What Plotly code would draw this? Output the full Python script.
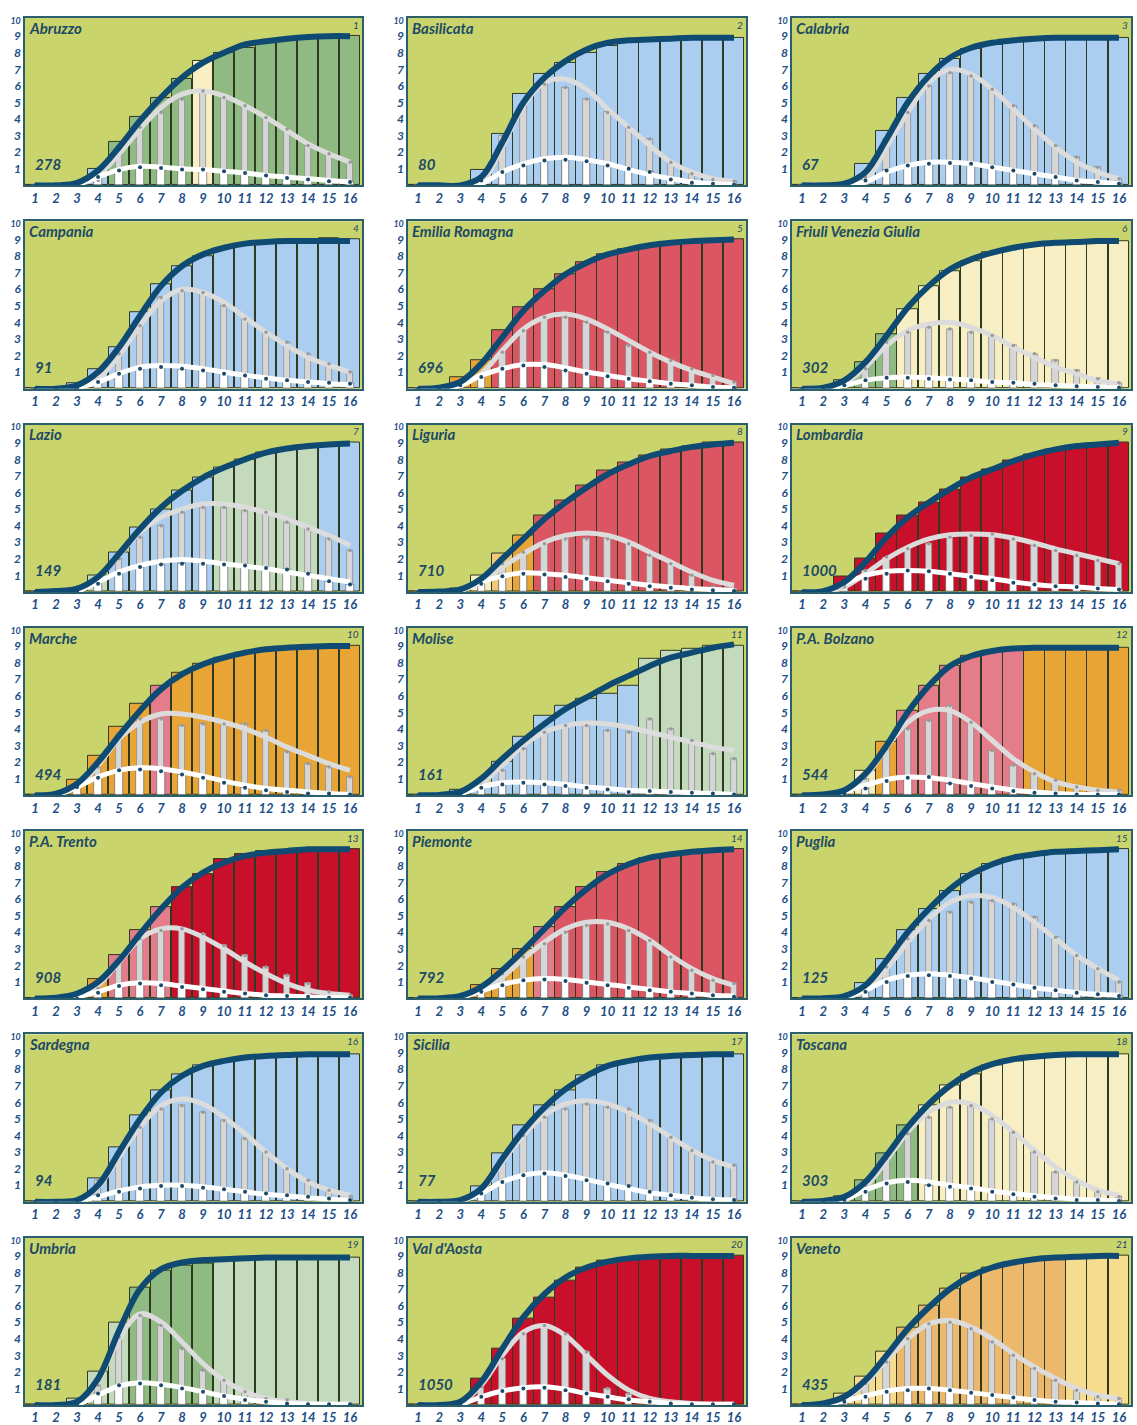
import plotly.graph_objects as go

DAYS = list(range(1, 17))
REGIONS = ["Abruzzo", "Basilicata", "Calabria", "Campania", "Emilia Romagna", "Friuli Venezia Giulia",
           "Lazio", "Liguria", "Lombardia", "Marche", "Molise", "P.A. Bolzano",
           "P.A. Trento", "Piemonte", "Puglia", "Sardegna", "Sicilia", "Toscana",
           "Umbria", "Val d'Aosta", "Veneto"]
TOTALS = [278, 80, 67, 91, 696, 302, 149, 710, 1000, 494, 161, 544,
          908, 792, 125, 94, 77, 303, 181, 1050, 435]

CUM_BARS = [
    [0, 0, 0.05, 1.0, 2.6, 4.1, 5.3, 6.4, 7.5, 8.0, 8.3, 8.6, 8.8, 8.9, 9.0, 9.0],
    [0, 0, 0, 0.95, 3.1, 5.5, 6.7, 7.4, 8.0, 8.4, 8.8, 8.8, 8.8, 8.9, 8.9, 8.9],
    [0, 0, 0.05, 1.3, 3.3, 5.3, 6.7, 7.6, 8.2, 8.5, 8.7, 8.8, 8.85, 8.9, 8.9, 8.9],
    [0, 0, 0.35, 1.2, 2.5, 4.6, 6.3, 7.4, 8.0, 8.5, 8.7, 8.85, 8.9, 8.9, 9.1, 9.0],
    [0, 0.1, 0.7, 1.7, 3.5, 4.9, 6.0, 6.9, 7.6, 8.1, 8.4, 8.6, 8.8, 8.9, 9.0, 9.0],
    [0, 0, 0.5, 1.6, 3.3, 4.8, 6.2, 7.1, 7.7, 8.2, 8.5, 8.7, 8.8, 8.85, 8.9, 8.9],
    [0, 0, 0.1, 1.0, 2.4, 3.9, 5.0, 6.1, 6.9, 7.5, 8.0, 8.4, 8.6, 8.8, 8.9, 9.0],
    [0, 0, 0.2, 1.0, 2.3, 3.4, 4.6, 5.5, 6.4, 7.3, 7.8, 8.2, 8.6, 8.8, 9.0, 9.0],
    [0, 0.05, 0.9, 2.0, 3.5, 4.6, 5.4, 6.2, 6.9, 7.4, 7.9, 8.3, 8.6, 8.8, 8.95, 9.0],
    [0, 0.05, 0.9, 2.4, 4.1, 5.5, 6.6, 7.4, 7.9, 8.3, 8.6, 8.8, 8.9, 8.95, 9.0, 9.0],
    [0.05, 0.1, 0.3, 0.5, 2.0, 3.5, 4.8, 5.4, 5.8, 6.1, 6.6, 8.2, 8.7, 8.85, 9.0, 9.0],
    [0, 0, 0.2, 1.5, 3.2, 5.1, 6.6, 7.8, 8.4, 8.7, 8.8, 8.9, 8.9, 8.9, 8.9, 8.9],
    [0, 0, 0.1, 1.2, 2.6, 4.1, 5.5, 6.7, 7.5, 8.4, 8.7, 8.9, 8.9, 9.0, 9.0, 9.0],
    [0, 0, 0.1, 0.8, 1.8, 3.0, 4.3, 5.5, 6.7, 7.6, 8.1, 8.5, 8.7, 8.85, 8.9, 9.0],
    [0, 0, 0.1, 0.9, 2.4, 4.1, 5.4, 6.5, 7.5, 8.1, 8.5, 8.7, 8.85, 8.9, 8.95, 9.0],
    [0, 0, 0.05, 1.4, 3.3, 5.2, 6.7, 7.7, 8.2, 8.5, 8.7, 8.8, 8.85, 8.9, 8.9, 8.9],
    [0, 0, 0.05, 0.9, 2.9, 4.6, 5.8, 6.7, 7.6, 8.2, 8.5, 8.7, 8.8, 8.85, 8.9, 8.9],
    [0, 0, 0.3, 1.3, 2.9, 4.6, 5.8, 7.0, 7.7, 8.2, 8.5, 8.7, 8.85, 8.9, 8.9, 8.9],
    [0, 0, 0.4, 2.0, 5.0, 7.1, 8.1, 8.4, 8.55, 8.7, 8.8, 8.85, 8.9, 8.9, 8.9, 8.9],
    [0, 0, 0.1, 1.6, 3.4, 5.2, 6.5, 7.5, 8.3, 8.7, 8.85, 8.9, 9.0, 9.0, 9.0, 9.0],
    [0, 0.1, 0.7, 1.7, 3.2, 4.7, 6.0, 7.0, 7.9, 8.3, 8.6, 8.8, 8.9, 8.95, 9.0, 9.0],
]
CUM_CURVE = [
    [0, 0, 0.15, 0.9, 2.3, 3.9, 5.3, 6.5, 7.4, 8.0, 8.5, 8.7, 8.85, 8.95, 9.0, 9.0],
    [0, 0, 0, 0.5, 2.6, 5.0, 6.5, 7.5, 8.2, 8.6, 8.75, 8.8, 8.85, 8.9, 8.9, 8.9],
    [0, 0, 0.1, 0.8, 2.8, 5.0, 6.6, 7.7, 8.3, 8.6, 8.75, 8.85, 8.9, 8.9, 8.9, 8.9],
    [0, 0, 0.2, 1.0, 2.5, 4.4, 6.2, 7.4, 8.1, 8.5, 8.75, 8.85, 8.9, 8.9, 8.9, 8.9],
    [0, 0.05, 0.4, 1.5, 3.1, 4.7, 5.9, 6.9, 7.6, 8.1, 8.4, 8.65, 8.8, 8.9, 8.95, 9.0],
    [0, 0.05, 0.5, 1.6, 3.2, 4.9, 6.2, 7.2, 7.8, 8.2, 8.5, 8.7, 8.8, 8.85, 8.9, 8.9],
    [0, 0.05, 0.2, 0.9, 2.3, 3.8, 5.1, 6.1, 6.9, 7.5, 8.0, 8.4, 8.65, 8.8, 8.9, 8.95],
    [0, 0.02, 0.15, 0.8, 2.0, 3.2, 4.4, 5.4, 6.3, 7.1, 7.7, 8.2, 8.5, 8.75, 8.9, 9.0],
    [0, 0.05, 0.6, 1.8, 3.3, 4.5, 5.4, 6.2, 6.9, 7.4, 7.9, 8.3, 8.6, 8.8, 8.9, 9.0],
    [0, 0.1, 0.7, 2.0, 3.6, 5.1, 6.4, 7.3, 7.9, 8.3, 8.6, 8.8, 8.9, 8.95, 9.0, 9.0],
    [0, 0.02, 0.2, 1.0, 2.2, 3.3, 4.3, 5.2, 5.9, 6.6, 7.2, 7.8, 8.3, 8.6, 8.9, 9.1],
    [0, 0.05, 0.3, 1.3, 3.0, 5.0, 6.6, 7.8, 8.4, 8.7, 8.85, 8.9, 8.9, 8.9, 8.9, 8.9],
    [0, 0.05, 0.3, 1.0, 2.3, 3.9, 5.4, 6.7, 7.6, 8.2, 8.6, 8.8, 8.9, 9.0, 9.0, 9.0],
    [0, 0.02, 0.15, 0.7, 1.7, 2.9, 4.2, 5.5, 6.6, 7.5, 8.1, 8.5, 8.7, 8.85, 8.95, 9.0],
    [0, 0.02, 0.15, 0.8, 2.3, 4.0, 5.4, 6.6, 7.5, 8.1, 8.5, 8.7, 8.85, 8.9, 8.95, 9.0],
    [0, 0, 0.1, 1.0, 3.0, 5.0, 6.6, 7.6, 8.2, 8.5, 8.7, 8.8, 8.85, 8.9, 8.9, 8.9],
    [0, 0, 0.1, 0.8, 2.6, 4.3, 5.7, 6.8, 7.6, 8.2, 8.5, 8.7, 8.8, 8.85, 8.9, 8.9],
    [0, 0.05, 0.3, 1.2, 2.8, 4.5, 5.9, 7.0, 7.8, 8.3, 8.6, 8.75, 8.85, 8.9, 8.9, 8.9],
    [0, 0, 0.2, 1.6, 4.5, 7.0, 8.2, 8.6, 8.75, 8.8, 8.85, 8.9, 8.9, 8.9, 8.9, 8.9],
    [0, 0, 0.2, 1.4, 3.4, 5.3, 6.7, 7.7, 8.3, 8.65, 8.85, 8.95, 9.0, 9.0, 9.0, 9.0],
    [0, 0.1, 0.5, 1.5, 3.0, 4.6, 5.9, 7.0, 7.8, 8.3, 8.6, 8.8, 8.9, 8.95, 9.0, 9.0],
]
GRAY_BARS = [
    [0, 0, 0, 0.3, 2.2, 3.5, 4.4, 5.2, 5.7, 5.3, 4.8, 4.1, 3.4, 2.4, 1.9, 1.4],
    [0, 0, 0, 0.3, 3.0, 4.9, 6.1, 5.9, 5.2, 4.4, 3.5, 2.8, 1.4, 0.7, 0.35, 0.25],
    [0, 0, 0, 0.5, 2.8, 4.4, 6.0, 6.8, 6.6, 5.8, 4.8, 3.6, 2.4, 1.7, 1.1, 0.4],
    [0, 0, 0, 0.4, 2.1, 3.8, 5.5, 5.9, 5.8, 5.0, 4.2, 3.4, 2.8, 2.1, 1.5, 1.0],
    [0, 0, 0.3, 0.7, 2.2, 3.5, 4.3, 4.3, 4.0, 3.4, 2.6, 2.2, 1.7, 1.2, 0.8, 0.4],
    [0, 0, 0.2, 1.2, 2.8, 3.4, 3.7, 3.6, 3.4, 3.2, 2.6, 2.1, 1.7, 1.1, 0.6, 0.35],
    [0, 0, 0, 0.6, 2.0, 3.3, 4.0, 4.8, 5.1, 5.1, 4.9, 4.8, 4.2, 3.8, 3.2, 2.5],
    [0, 0, 0, 0.5, 1.7, 2.4, 2.9, 3.2, 3.2, 3.2, 2.9, 2.2, 1.7, 1.0, 0.3, 0.2],
    [0, 0, 0.3, 1.3, 2.1, 2.6, 2.9, 3.3, 3.4, 3.5, 3.2, 2.8, 2.5, 2.2, 1.9, 1.7],
    [0, 0, 0.5, 1.7, 3.7, 4.6, 4.6, 4.2, 4.3, 4.3, 4.3, 3.9, 2.6, 1.9, 1.7, 1.1],
    [0, 0, 0.1, 0.6, 1.5, 2.8, 3.8, 4.2, 4.2, 3.9, 3.8, 4.6, 4.0, 3.3, 2.5, 2.2],
    [0, 0, 0.1, 1.0, 2.8, 4.0, 4.5, 5.4, 4.4, 2.7, 1.8, 1.3, 0.9, 0.5, 0.3, 0.3],
    [0, 0, 0, 0.6, 2.4, 3.6, 4.1, 4.2, 3.9, 3.2, 2.6, 1.9, 1.4, 0.9, 0.4, 0.2],
    [0, 0, 0, 0.5, 1.5, 2.5, 3.3, 4.0, 4.4, 4.5, 4.1, 3.5, 2.5, 1.7, 1.1, 0.9],
    [0, 0, 0, 0.4, 1.9, 3.6, 4.7, 5.2, 5.8, 5.9, 5.7, 4.9, 3.7, 2.6, 1.8, 1.0],
    [0, 0, 0, 1.3, 2.9, 4.5, 5.6, 5.8, 5.4, 4.9, 3.8, 3.0, 2.0, 1.3, 0.7, 0.3],
    [0, 0, 0, 0.6, 2.5, 4.0, 5.1, 5.6, 5.9, 5.7, 5.6, 4.9, 3.9, 3.1, 2.4, 2.2],
    [0, 0, 0.1, 1.0, 2.6, 4.1, 5.1, 5.7, 5.8, 5.0, 4.2, 3.0, 1.8, 1.2, 0.6, 0.3],
    [0, 0, 0, 1.2, 4.1, 5.4, 4.8, 3.4, 2.1, 1.5, 0.8, 0.4, 0.3, 0.1, 0.05, 0.05],
    [0, 0, 0, 1.1, 2.8, 4.3, 4.8, 4.3, 3.2, 1.0, 0.7, 0.3, 0.1, 0.05, 0.05, 0.05],
    [0, 0, 0.3, 1.3, 2.6, 4.0, 4.9, 5.0, 4.6, 3.8, 3.0, 2.2, 1.5, 0.9, 0.5, 0.4],
]
GRAY_CURVE = [
    [0, 0, 0.05, 0.6, 1.9, 3.4, 4.7, 5.5, 5.7, 5.4, 4.8, 4.1, 3.3, 2.5, 1.9, 1.4],
    [0, 0, 0, 0.2, 2.3, 4.8, 6.2, 6.4, 5.8, 4.6, 3.5, 2.4, 1.4, 0.8, 0.4, 0.25],
    [0, 0, 0, 0.3, 2.3, 4.4, 6.2, 7.0, 6.7, 5.8, 4.6, 3.4, 2.3, 1.4, 0.8, 0.4],
    [0, 0, 0.05, 0.6, 2.0, 3.8, 5.3, 6.0, 5.8, 5.2, 4.3, 3.4, 2.6, 1.9, 1.4, 1.0],
    [0, 0, 0.2, 0.9, 2.3, 3.6, 4.3, 4.5, 4.2, 3.6, 2.9, 2.2, 1.6, 1.1, 0.7, 0.3],
    [0, 0, 0.3, 1.3, 2.6, 3.5, 3.9, 4.0, 3.7, 3.2, 2.5, 1.9, 1.3, 0.9, 0.5, 0.3],
    [0, 0, 0.1, 0.9, 2.2, 3.6, 4.5, 5.0, 5.3, 5.3, 5.1, 4.8, 4.4, 3.9, 3.4, 2.8],
    [0, 0, 0.1, 0.6, 1.5, 2.3, 3.0, 3.4, 3.55, 3.4, 3.0, 2.4, 1.8, 1.2, 0.7, 0.4],
    [0, 0, 0.3, 1.1, 2.0, 2.7, 3.2, 3.45, 3.5, 3.45, 3.25, 2.95, 2.6, 2.3, 2.0, 1.7],
    [0, 0.05, 0.5, 1.8, 3.4, 4.4, 4.9, 4.9, 4.7, 4.4, 4.0, 3.5, 2.9, 2.4, 1.9, 1.5],
    [0, 0, 0.1, 0.7, 1.8, 3.0, 3.8, 4.2, 4.35, 4.3, 4.1, 3.8, 3.5, 3.2, 2.9, 2.7],
    [0, 0, 0.2, 1.1, 2.9, 4.4, 5.1, 5.1, 4.4, 3.3, 2.2, 1.4, 0.8, 0.5, 0.3, 0.2],
    [0, 0, 0.1, 0.8, 2.2, 3.6, 4.2, 4.2, 3.7, 3.0, 2.2, 1.5, 0.9, 0.5, 0.3, 0.2],
    [0, 0, 0.05, 0.5, 1.3, 2.4, 3.4, 4.2, 4.6, 4.6, 4.2, 3.5, 2.6, 1.8, 1.2, 0.8],
    [0, 0, 0.05, 0.5, 1.8, 3.4, 4.8, 5.8, 6.2, 6.1, 5.5, 4.6, 3.6, 2.6, 1.8, 1.1],
    [0, 0, 0.05, 0.9, 2.7, 4.5, 5.8, 6.2, 5.9, 5.1, 4.1, 3.0, 2.0, 1.2, 0.7, 0.4],
    [0, 0, 0.05, 0.7, 2.4, 4.0, 5.2, 5.9, 6.1, 5.9, 5.4, 4.7, 3.9, 3.1, 2.5, 2.1],
    [0, 0, 0.1, 0.9, 2.5, 4.2, 5.4, 6.0, 5.9, 5.2, 4.2, 3.1, 2.1, 1.3, 0.7, 0.4],
    [0, 0, 0.1, 1.5, 4.0, 5.5, 5.0, 3.8, 2.5, 1.5, 0.8, 0.4, 0.2, 0.1, 0.05, 0.05],
    [0, 0, 0.1, 1.2, 3.0, 4.4, 4.8, 4.2, 3.0, 1.8, 0.9, 0.4, 0.2, 0.1, 0.05, 0.05],
    [0, 0.05, 0.4, 1.3, 2.7, 4.0, 4.9, 5.1, 4.7, 4.0, 3.1, 2.3, 1.6, 1.0, 0.6, 0.4],
]
WHITE_BARS = [
    [0, 0, 0, 0.5, 0.9, 1.1, 1.05, 0.95, 0.95, 0.85, 0.75, 0.6, 0.45, 0.35, 0.25, 0.2],
    [0, 0, 0, 0.3, 0.8, 1.2, 1.5, 1.55, 1.45, 1.2, 1.0, 0.8, 0.35, 0.15, 0.1, 0.05],
    [0, 0, 0, 0.3, 0.9, 1.2, 1.3, 1.35, 1.3, 1.1, 0.9, 0.7, 0.5, 0.3, 0.2, 0.1],
    [0, 0, 0, 0.4, 0.9, 1.2, 1.3, 1.2, 1.1, 0.9, 0.8, 0.6, 0.5, 0.4, 0.35, 0.3],
    [0, 0, 0.2, 0.7, 1.2, 1.4, 1.3, 1.1, 0.9, 0.75, 0.6, 0.45, 0.3, 0.2, 0.1, 0.05],
    [0, 0, 0.2, 0.5, 0.65, 0.65, 0.6, 0.55, 0.5, 0.4, 0.35, 0.3, 0.2, 0.15, 0.1, 0.05],
    [0, 0, 0, 0.5, 1.1, 1.5, 1.65, 1.7, 1.7, 1.65, 1.6, 1.45, 1.35, 1.1, 0.65, 0.45],
    [0, 0, 0.1, 0.5, 0.95, 1.1, 1.05, 0.9, 0.8, 0.65, 0.5, 0.35, 0.25, 0.15, 0.1, 0.05],
    [0, 0, 0.5, 0.8, 1.1, 1.3, 1.25, 1.1, 0.9, 0.7, 0.55, 0.45, 0.35, 0.3, 0.2, 0.15],
    [0, 0, 0.5, 1.05, 1.5, 1.55, 1.45, 1.25, 1.05, 0.75, 0.45, 0.3, 0.2, 0.1, 0.1, 0.05],
    [0, 0, 0.05, 0.45, 0.65, 0.75, 0.65, 0.55, 0.45, 0.35, 0.2, 0.25, 0.2, 0.15, 0.1, 0.05],
    [0, 0, 0.1, 0.4, 0.85, 1.05, 1.1, 0.7, 0.55, 0.4, 0.25, 0.15, 0.1, 0.05, 0.05, 0.05],
    [0, 0, 0, 0.35, 0.75, 0.9, 0.8, 0.7, 0.55, 0.4, 0.3, 0.2, 0.15, 0.1, 0.05, 0.05],
    [0, 0, 0.1, 0.4, 0.8, 1.1, 1.15, 1.05, 0.95, 0.8, 0.65, 0.5, 0.4, 0.3, 0.2, 0.1],
    [0, 0, 0.1, 0.4, 1.0, 1.35, 1.4, 1.35, 1.2, 1.0, 0.85, 0.65, 0.5, 0.35, 0.25, 0.15],
    [0, 0, 0, 0.4, 0.6, 0.8, 0.95, 0.95, 0.85, 0.75, 0.6, 0.5, 0.4, 0.3, 0.2, 0.1],
    [0, 0, 0, 0.5, 1.2, 1.6, 1.7, 1.55, 1.3, 1.1, 0.95, 0.6, 0.4, 0.25, 0.15, 0.1],
    [0, 0, 0.1, 0.6, 1.1, 1.2, 1.0, 0.9, 0.8, 0.6, 0.45, 0.3, 0.2, 0.1, 0.1, 0.05],
    [0, 0, 0, 0.7, 1.2, 1.3, 1.2, 1.0, 0.8, 0.55, 0.3, 0.2, 0.1, 0.05, 0.05, 0.05],
    [0, 0, 0, 0.5, 0.85, 1.0, 1.05, 0.9, 0.7, 0.5, 0.35, 0.2, 0.1, 0.05, 0.05, 0.05],
    [0, 0, 0.2, 0.5, 0.8, 0.9, 1.0, 0.9, 0.75, 0.6, 0.45, 0.3, 0.2, 0.15, 0.1, 0.05],
]
WHITE_CURVE = [
    [0, 0, 0.05, 0.5, 0.95, 1.15, 1.1, 1.0, 0.95, 0.85, 0.75, 0.6, 0.5, 0.4, 0.3, 0.2],
    [0, 0, 0, 0.1, 0.8, 1.3, 1.6, 1.7, 1.55, 1.3, 0.95, 0.65, 0.4, 0.2, 0.1, 0.05],
    [0, 0, 0, 0.2, 0.8, 1.2, 1.4, 1.4, 1.3, 1.1, 0.9, 0.7, 0.5, 0.3, 0.2, 0.1],
    [0, 0, 0.05, 0.4, 0.9, 1.3, 1.4, 1.35, 1.2, 1.0, 0.8, 0.65, 0.5, 0.4, 0.3, 0.25],
    [0, 0, 0.2, 0.8, 1.2, 1.45, 1.45, 1.25, 1.0, 0.8, 0.6, 0.45, 0.3, 0.2, 0.1, 0.05],
    [0, 0, 0.2, 0.5, 0.65, 0.7, 0.65, 0.6, 0.5, 0.4, 0.35, 0.25, 0.2, 0.15, 0.1, 0.05],
    [0, 0, 0.05, 0.6, 1.2, 1.6, 1.85, 1.95, 1.85, 1.7, 1.55, 1.4, 1.2, 1.0, 0.8, 0.6],
    [0, 0, 0.1, 0.6, 0.95, 1.15, 1.1, 1.0, 0.85, 0.7, 0.55, 0.4, 0.3, 0.2, 0.15, 0.1],
    [0, 0.02, 0.5, 1.0, 1.25, 1.3, 1.25, 1.1, 0.95, 0.8, 0.6, 0.45, 0.35, 0.3, 0.2, 0.15],
    [0, 0.05, 0.5, 1.1, 1.5, 1.65, 1.6, 1.4, 1.15, 0.85, 0.6, 0.4, 0.3, 0.2, 0.1, 0.05],
    [0, 0, 0.1, 0.5, 0.75, 0.8, 0.75, 0.65, 0.5, 0.4, 0.3, 0.25, 0.2, 0.15, 0.1, 0.05],
    [0, 0, 0.2, 0.6, 0.95, 1.1, 1.05, 0.9, 0.7, 0.5, 0.3, 0.2, 0.1, 0.05, 0.05, 0.05],
    [0, 0, 0.1, 0.4, 0.8, 0.95, 0.9, 0.75, 0.6, 0.45, 0.3, 0.2, 0.15, 0.1, 0.05, 0.05],
    [0, 0, 0.1, 0.45, 0.85, 1.1, 1.2, 1.15, 1.0, 0.85, 0.7, 0.55, 0.4, 0.3, 0.2, 0.15],
    [0, 0, 0.1, 0.5, 1.1, 1.4, 1.5, 1.4, 1.25, 1.05, 0.85, 0.65, 0.5, 0.35, 0.25, 0.2],
    [0, 0, 0.05, 0.3, 0.65, 0.9, 1.0, 1.0, 0.9, 0.75, 0.6, 0.45, 0.35, 0.25, 0.15, 0.1],
    [0, 0, 0.05, 0.5, 1.2, 1.6, 1.75, 1.6, 1.35, 1.05, 0.8, 0.55, 0.4, 0.25, 0.15, 0.1],
    [0, 0, 0.15, 0.7, 1.15, 1.3, 1.2, 1.0, 0.85, 0.65, 0.5, 0.35, 0.25, 0.15, 0.1, 0.05],
    [0, 0, 0.05, 0.6, 1.15, 1.35, 1.25, 1.05, 0.8, 0.55, 0.35, 0.2, 0.1, 0.05, 0.05, 0.05],
    [0, 0, 0.05, 0.5, 0.85, 1.05, 1.1, 0.95, 0.7, 0.5, 0.3, 0.2, 0.1, 0.05, 0.05, 0.05],
    [0, 0.02, 0.25, 0.55, 0.85, 1.0, 1.0, 0.9, 0.75, 0.6, 0.45, 0.3, 0.2, 0.15, 0.1, 0.05],
]
# per-bar colour category codes (one letter per day)
BAR_CODES = [
    "GGGBGGGGYGGGGGGG", "BBBBBBBBBBBBBBBB", "BBBBBBBBBBBBBBBB",
    "BBBBBBBBBBBBBBBB", "OOOORRRRRRRRRRRR", "GGGGGYYYYYYYYYYY",
    "BBBLBBBBBLLLLLBB", "YYYYQORRRRRRRRRR", "DDDDDDDDDDDDDDDD",
    "OOOOOOPOOOOOOOOO", "BBBBBBBBBBBLLLLL", "YYYYOPPPPPPOOOOO",
    "OOOOPPPDDDDDDDDD", "OOOOOOPRRRRRRRRR", "BBBBBBBBBBBBBBBB",
    "BBBBBBBBBBBBBBBB", "BBBBBBBBBBBBBBBB", "GGGGGGYYYYYYYYYY",
    "LLLLLGGGGLLLLLLL", "DDDDDDDDDDDDDDDD", "WWWWWVVVVVVVVWWW",
]

PALETTE = {"G": "#8fbb83", "B": "#aacdf0", "Y": "#f7efc3", "L": "#c3dbbc",
           "R": "#dc5563", "D": "#c8102a", "P": "#e47c8a", "O": "#e8a536",
           "Q": "#f0c878", "V": "#ebb86c", "W": "#f5dc8e"}

W, H = 1137, 1425
COL_PX = [(25, 362), (408, 746), (792, 1131)]
ROW_TOP0, ROW_PITCH, ROW_H = 15, 204, 168
NAVY = "#0f4a72"
TXT = "#1d4a66"
TICK = "#1e4f86"
BG = "#c9d46c"
FONT = "Lato"

fig = go.Figure()
annotations = []
layout_axes = {}

for k, name in enumerate(REGIONS):
    r, c = divmod(k, 3)
    ax = "" if k == 0 else str(k + 1)
    xa, ya = "x" + ax, "y" + ax
    x0, x1 = COL_PX[c]
    top = ROW_TOP0 + ROW_PITCH * r
    bot = top + ROW_H
    layout_axes["xaxis" + ax] = dict(
        domain=[x0 / W, x1 / W], anchor=ya, range=[0.52, 16.57],
        tickmode="array", tickvals=DAYS, ticktext=[str(d) for d in DAYS],
        showgrid=False, zeroline=False, showline=True, mirror=True,
        linecolor="#2b5f6e", linewidth=1.5, ticks="", ticklen=0,
        tickfont=dict(family=FONT, size=13, color=TICK, style="italic", weight="bold"),
        fixedrange=True)
    layout_axes["yaxis" + ax] = dict(
        domain=[1 - bot / H, 1 - top / H], anchor=xa, range=[0, 10.1],
        tickmode="array", tickvals=list(range(1, 11)),
        ticktext=[str(v) for v in range(1, 10)] + ["<span style='font-size:9px'>10</span>"],
        showgrid=False, zeroline=False, showline=True, mirror=True,
        linecolor="#2b5f6e", linewidth=1.5, ticks="",
        tickfont=dict(family=FONT, size=12, color=TICK, style="italic", weight="bold"),
        fixedrange=True)

    colors = [PALETTE[ch] for ch in BAR_CODES[k]]
    fig.add_trace(go.Bar(x=DAYS, y=CUM_BARS[k], width=0.98, marker=dict(
        color=colors, line=dict(color="#2f3a22", width=1)),
        xaxis=xa, yaxis=ya, showlegend=False, hoverinfo="skip"))
    fig.add_trace(go.Bar(x=DAYS, y=GRAY_BARS[k], width=0.3, marker=dict(
        color="#d6d6d6", line=dict(color="#8e8e8e", width=0.8)),
        xaxis=xa, yaxis=ya, showlegend=False, hoverinfo="skip"))
    fig.add_trace(go.Scatter(x=DAYS, y=GRAY_CURVE[k], mode="lines",
        line=dict(color="#dcdcdc", width=5, shape="spline", smoothing=1.0),
        xaxis=xa, yaxis=ya, showlegend=False, hoverinfo="skip"))
    fig.add_trace(go.Scatter(x=DAYS, y=GRAY_BARS[k], mode="markers",
        marker=dict(color="#9a9a9a", size=3.5),
        xaxis=xa, yaxis=ya, showlegend=False, hoverinfo="skip"))
    fig.add_trace(go.Bar(x=DAYS, y=WHITE_BARS[k], width=0.36, marker=dict(
        color="#ffffff", line=dict(color="#555555", width=0.6)),
        xaxis=xa, yaxis=ya, showlegend=False, hoverinfo="skip"))
    fig.add_trace(go.Scatter(x=DAYS, y=WHITE_CURVE[k], mode="lines",
        line=dict(color="#ffffff", width=5, shape="spline", smoothing=1.0),
        xaxis=xa, yaxis=ya, showlegend=False, hoverinfo="skip"))
    fig.add_trace(go.Scatter(x=DAYS, y=WHITE_BARS[k], mode="markers",
        marker=dict(color="#1b4a6a", size=4),
        xaxis=xa, yaxis=ya, showlegend=False, hoverinfo="skip"))
    fig.add_trace(go.Scatter(x=DAYS, y=CUM_CURVE[k], mode="lines",
        line=dict(color=NAVY, width=6, shape="spline", smoothing=1.0),
        xaxis=xa, yaxis=ya, showlegend=False, hoverinfo="skip"))

    annotations.append(dict(x=0.62, y=9.5, xref=xa, yref=ya, text=name, showarrow=False,
                            xanchor="left", yanchor="middle",
                            font=dict(family=FONT, size=15, color=TXT, style="italic", weight="bold")))
    annotations.append(dict(x=16.5, y=9.7, xref=xa, yref=ya, text=str(k + 1), showarrow=False,
                            xanchor="right", yanchor="middle",
                            font=dict(family=FONT, size=10, color=TXT, style="italic")))
    annotations.append(dict(x=0.9, y=1.3, xref=xa, yref=ya, text=str(TOTALS[k]), showarrow=False,
                            xanchor="left", yanchor="middle",
                            font=dict(family=FONT, size=15, color=TXT, style="italic", weight="bold")))

fig.update_layout(width=W, height=H, margin=dict(l=0, r=0, t=0, b=0),
                  paper_bgcolor="white", plot_bgcolor=BG, barmode="overlay",
                  bargap=0, annotations=annotations, **layout_axes)
fig.write_html("out.html", config={"displayModeBar": False},
               post_script="document.body.style.margin='0px';")
